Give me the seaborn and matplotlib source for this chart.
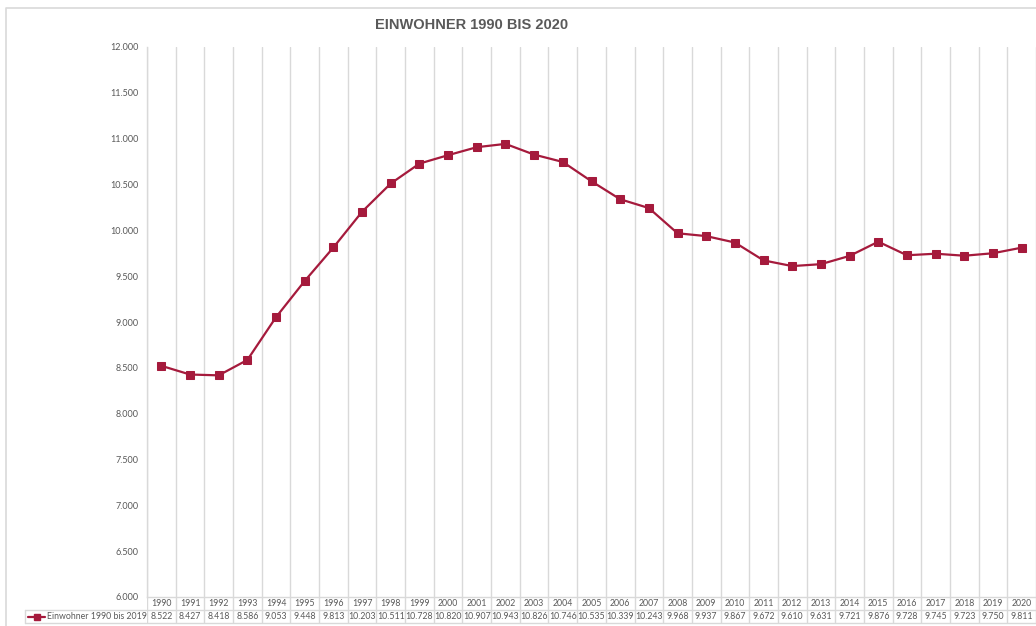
import numpy as np
import pandas as pd
import matplotlib
matplotlib.use('Agg')
import matplotlib.pyplot as plt
import matplotlib.transforms as mtransforms
from matplotlib.lines import Line2D
from matplotlib.ticker import FixedLocator, FuncFormatter
import seaborn as sns

# data
years = list(range(1990, 2021))
einwohner = [8522, 8427, 8418, 8586, 9053, 9448, 9813, 10203, 10511, 10728,
             10820, 10907, 10943, 10826, 10746, 10535, 10339, 10243, 9968, 9937,
             9867, 9672, 9610, 9631, 9721, 9876, 9728, 9745, 9723, 9750, 9811]
series_label = "Einwohner 1990 bis 2019"
title = "EINWOHNER 1990 BIS 2020"
y_ticks = list(range(6000, 12001, 500))

RED = '#A51A3C'
GRID = '#D9D9D9'
TXT = '#595959'

sns.set_theme(style='white')
plt.rcParams['font.family'] = ['Lato', 'DejaVu Sans']

df = pd.DataFrame({'Jahr': years, 'Einwohner': einwohner})


def de_fmt(v, pos=None):
    return f"{int(v):,}".replace(",", ".")


W, H = 1036, 626
fig = plt.figure(figsize=(W / 100, H / 100), dpi=100)
ax = fig.add_axes([147 / W, 1 - 597 / H, 889 / W, 550 / H])
tab = fig.add_axes([147 / W, 1 - 623 / H, 889 / W, 26 / H], sharex=ax)

# main line
sns.lineplot(data=df, x='Jahr', y='Einwohner', ax=ax, color=RED, linewidth=1.6,
             marker='s', markersize=6, markeredgecolor=RED, zorder=3)

ax.set_xlim(years[0] - 0.5, years[-1] + 0.5)
ax.set_ylim(y_ticks[0], y_ticks[-1])
ax.yaxis.set_major_locator(FixedLocator(y_ticks))
ax.yaxis.set_major_formatter(FuncFormatter(de_fmt))
ax.tick_params(axis='y', labelsize=6.5, labelcolor=TXT, length=0, pad=6)
bounds = [y - 0.5 for y in years] + [years[-1] + 0.5]
ax.xaxis.set_major_locator(FixedLocator([]))
ax.xaxis.set_minor_locator(FixedLocator(bounds))
ax.grid(True, which='minor', axis='x', color=GRID, linewidth=1)
ax.tick_params(axis='x', which='both', length=0, labelbottom=False)
ax.set_xlabel('')
ax.set_ylabel('')
for s in ['top', 'right']:
    ax.spines[s].set_visible(False)
for s in ['left', 'bottom']:
    ax.spines[s].set_color(GRID)
    ax.spines[s].set_linewidth(1)

# data table under the chart
tab.set_ylim(0, 2)
tab.grid(True, which='minor', axis='x', color=GRID, linewidth=1)
tab.tick_params(axis='both', which='both', length=0, labelbottom=False, labelleft=False)
for s in tab.spines.values():
    s.set_visible(False)
tab.patch.set_alpha(0)
for yr, v in zip(years, einwohner):
    tab.text(yr, 1.5, str(yr), ha='center', va='center', fontsize=6.3, color=TXT)
    tab.text(yr, 0.5, de_fmt(v), ha='center', va='center', fontsize=6.3, color=TXT)

trans = mtransforms.blended_transform_factory(tab.transAxes, tab.transData)
x_left = -(147 - 25) / 889
for yy in [0, 1]:
    tab.plot([x_left, 1], [yy, yy], transform=trans, color=GRID, linewidth=1, clip_on=False)
tab.plot([x_left, x_left], [0, 1], transform=trans, color=GRID, linewidth=1, clip_on=False)
tab.plot([x_left + 0.003, x_left + 0.023], [0.5, 0.5], transform=trans, color=RED,
         linewidth=1.6, clip_on=False)
tab.plot([x_left + 0.013], [0.5], transform=trans, color=RED, marker='s', markersize=5,
         clip_on=False)
tab.text(x_left + 0.025, 0.5, series_label, transform=trans, ha='left', va='center',
         fontsize=6.3, color=TXT)

# chart border and title
fig.add_artist(Line2D([6 / W, 6 / W, 1], [0, 1 - 8 / H, 1 - 8 / H],
                      transform=fig.transFigure, color=GRID, linewidth=1.2))
fig.text(472 / W, 1 - 25 / H, title, ha='center', va='center', fontsize=10.5,
         fontweight='bold', color=TXT,
         family=['Liberation Sans Narrow', 'Liberation Sans', 'DejaVu Sans'])

fig.savefig('out.png', dpi=100)
